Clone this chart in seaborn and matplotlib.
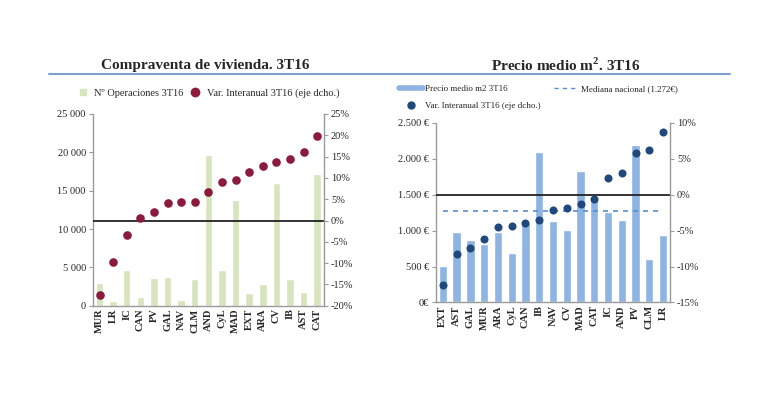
import numpy as np
import pandas as pd
import matplotlib
matplotlib.use('Agg')
import matplotlib.pyplot as plt
import seaborn as sns
from matplotlib.lines import Line2D
from matplotlib.ticker import FixedLocator

# -----------------------------
# Data
# -----------------------------
cats_left = ["MUR", "LR", "IC", "CAN", "PV", "GAL", "NAV", "CLM", "AND",
             "CyL", "MAD", "EXT", "ARA", "CV", "IB", "AST", "CAT"]
operaciones = [2950, 650, 4650, 1200, 3600, 3800, 800, 3450, 19600,
               4650, 13800, 1600, 2850, 15950, 3450, 1800, 17200]
var_operaciones = [-17.6, -9.8, -3.5, 0.7, 1.9, 4.1, 4.4, 4.4, 6.6,
                   9.1, 9.5, 11.3, 12.8, 13.8, 14.4, 16.0, 19.8]

cats_right = ["EXT", "AST", "GAL", "MUR", "ARA", "CyL", "CAN", "IB", "NAV",
              "CV", "MAD", "CAT", "IC", "AND", "PV", "CLM", "LR"]
precio = [510, 975, 865, 810, 975, 695, 1100, 2095, 1140,
          1015, 1825, 1450, 1255, 1150, 2195, 610, 935]
var_precio = [-12.5, -8.3, -7.4, -6.2, -4.5, -4.3, -3.9, -3.5, -2.1,
              -1.9, -1.3, -0.6, 2.3, 3.1, 5.8, 6.3, 8.8]
mediana = 1272

left_ticks = [0, 5000, 10000, 15000, 20000, 25000]
left_ticklabels = ["0", "5 000", "10 000", "15 000", "20 000", "25 000"]
left_pct = [-20, -15, -10, -5, 0, 5, 10, 15, 20, 25]
right_ticks = [0, 500, 1000, 1500, 2000, 2500]
right_ticklabels = ["0€", "500 €", "1.000 €", "1.500 €", "2.000 €", "2.500 €"]
right_pct = [-15, -10, -5, 0, 5, 10]

GREEN = "#D7E4BD"
RED = "#8C1A3C"
BLUE = "#8DB4E2"
NAVY = "#1F497D"
DASH = "#558ED5"
GREY = "#9A9A9A"

sns.set_style("white")
plt.rcParams['font.family'] = ['Liberation Serif', 'DejaVu Serif']
plt.rcParams['mathtext.fontset'] = 'custom'
plt.rcParams['mathtext.rm'] = 'Liberation Serif'
plt.rcParams['mathtext.bf'] = 'Liberation Serif:bold'

df_l = pd.DataFrame({"cat": cats_left, "ops": operaciones, "var": var_operaciones})
df_r = pd.DataFrame({"cat": cats_right, "precio": precio, "var": var_precio})

fig = plt.figure(figsize=(7.7, 3.99), dpi=100)
ax1 = fig.add_axes([0.1204, 0.2338, 0.3004, 0.4805])
ax2 = fig.add_axes([0.5662, 0.2419, 0.3039, 0.4499])


def style_axes(ax, twin):
    ax.spines["top"].set_visible(False)
    twin.spines["top"].set_visible(False)
    for sp in [ax.spines["left"], ax.spines["bottom"], twin.spines["right"]]:
        sp.set_color(GREY)
        sp.set_linewidth(1.0)
    ax.spines["right"].set_visible(False)
    twin.spines["left"].set_visible(False)
    twin.spines["bottom"].set_visible(False)
    ax.tick_params(axis="y", length=3, color=GREY, labelsize=7.5, pad=2)
    twin.tick_params(axis="y", length=3, color=GREY, labelsize=7.5, pad=2)
    ax.tick_params(axis="x", which="major", length=0, labelsize=7.5, pad=2,
                   labelrotation=90)
    ax.tick_params(axis="x", which="minor", length=3, color=GREY)
    for lbl in ax.get_xticklabels():
        lbl.set_fontweight("bold")
    ax.set_xlabel("")
    ax.set_ylabel("")
    twin.set_xlabel("")
    twin.set_ylabel("")


# -----------------------------
# 1. Compraventa de vivienda
# -----------------------------
sns.barplot(data=df_l, x="cat", y="ops", order=cats_left, color=GREEN,
            width=0.55, saturation=1, ax=ax1)
ax1.set_ylim(0, 25000)
ax1.set_yticks(left_ticks)
ax1.set_yticklabels(left_ticklabels)
ax1.set_xlim(-0.5, len(cats_left) - 0.5)
ax1.xaxis.set_minor_locator(FixedLocator(np.arange(-0.5, len(cats_left), 1)))

t1 = ax1.twinx()
sns.stripplot(data=df_l, x="cat", y="var", order=cats_left, jitter=False,
              color=RED, size=6.2, linewidth=0, ax=t1)
t1.axhline(0, color="#222222", lw=1.3, zorder=1)
t1.set_ylim(-20, 25)
t1.set_yticks(left_pct)
t1.set_yticklabels([f"{v}%" for v in left_pct])
t1.set_xlim(-0.5, len(cats_left) - 0.5)
style_axes(ax1, t1)

ax1.set_title("Compraventa de vivienda. 3T16", fontsize=11, fontweight="bold",
              pad=0, x=0.486, y=1.237)

h1 = [Line2D([], [], marker="s", ls="", color=GREEN, markersize=4),
      Line2D([], [], marker="o", ls="", color=RED, markersize=6)]
ax1.legend(h1, ["Nº Operaciones 3T16", "Var. Interanual 3T16 (eje dcho.)"],
           ncol=2, loc="lower center", bbox_to_anchor=(0.489, 1.062),
           frameon=False, fontsize=7.5, handletextpad=0.1, columnspacing=0.15,
           borderaxespad=0)

# -----------------------------
# 2. Precio medio m2
# -----------------------------
sns.barplot(data=df_r, x="cat", y="precio", order=cats_right, color=BLUE,
            width=0.6, saturation=1, ax=ax2)
ax2.axhline(mediana, xmin=0.03, xmax=0.97, color=DASH, lw=1.2, ls=(0, (3, 3)))
ax2.set_ylim(0, 2500)
ax2.set_yticks(right_ticks)
ax2.set_yticklabels(right_ticklabels)
ax2.set_xlim(-0.5, len(cats_right) - 0.5)
ax2.xaxis.set_minor_locator(FixedLocator(np.arange(-0.5, len(cats_right), 1)))

t2 = ax2.twinx()
sns.stripplot(data=df_r, x="cat", y="var", order=cats_right, jitter=False,
              color=NAVY, size=5.8, linewidth=0, ax=t2)
t2.axhline(0, color="#222222", lw=1.3, zorder=1)
t2.set_ylim(-15, 10)
t2.set_yticks(right_pct)
t2.set_yticklabels([f"{v}%" for v in right_pct])
t2.set_xlim(-0.5, len(cats_right) - 0.5)
style_axes(ax2, t2)

ax2.set_title("Precio medio m$^{\\mathbf{2}}$. 3T16", fontsize=11,
              fontweight="bold", pad=0, x=0.556, y=1.288)

h2 = [Line2D([], [], color=BLUE, lw=4),
      Line2D([], [], marker="o", ls="", color=NAVY, markersize=5),
      Line2D([], [], color=DASH, lw=1, ls=(0, (3, 3)))]
ax2.legend(h2, ["Precio medio m2 3T16", "Var. Interanual 3T16 (eje dcho.)",
                "Mediana nacional (1.272€)"],
           ncol=2, loc="lower left", bbox_to_anchor=(-0.173, 1.05),
           frameon=False, fontsize=6.5, handletextpad=0.3, columnspacing=1.5,
           borderaxespad=0, handlelength=2.6, labelspacing=1.0)

# line under the titles
fig.add_artist(Line2D([49 / 770, 730 / 770], [1 - 74 / 399, 1 - 74 / 399],
                      color="#7F9FCF", lw=1.5, transform=fig.transFigure))

plt.savefig("out.png", dpi=100)
